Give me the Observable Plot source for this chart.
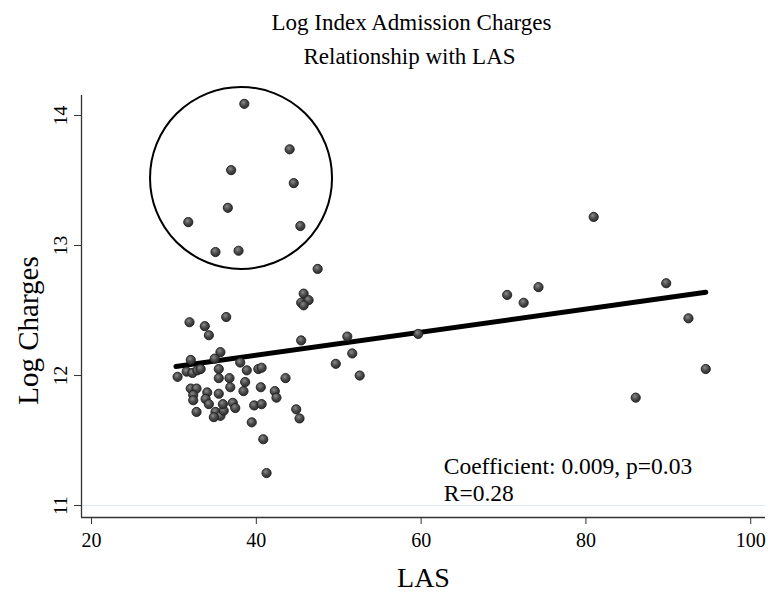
<!DOCTYPE html>
<html>
<head>
<meta charset="utf-8">
<script src="https://cdn.jsdelivr.net/npm/d3@7"></script>
<script src="https://cdn.jsdelivr.net/npm/@observablehq/plot@0.6"></script>
<style>
  html, body { margin: 0; padding: 0; background: #fff; }
  #chart { width: 768px; height: 595px; }
</style>
</head>
<body>
<div id="chart"></div>
<script>
// LAS values (x) and Log Charges values (y)
const las = [
  38.3, 43.8, 36.7, 44.3, 36.3, 31.5, 45.1, 34.8, 37.6,
  47.2, 45.5, 45.2, 46.1, 45.5, 45.2, 50.8, 59.4, 51.4, 49.4, 52.3, 43.3,
  80.7, 70.2, 72.2, 74.0, 89.5, 92.2, 94.3, 85.8,
  31.65, 33.5, 34.0, 36.1, 31.8, 35.4, 34.7, 30.2, 31.3, 32.0, 32.6, 33.0,
  35.2, 35.2, 36.5, 36.6, 31.8, 32.5, 32.1, 32.1, 33.8, 33.6, 35.2, 34.0,
  34.8, 35.4, 35.8, 35.7, 32.5, 34.6, 37.8, 38.6, 40.0, 40.4, 38.4, 38.2,
  40.3, 42.0, 42.2, 36.9, 37.2, 39.5, 40.4, 44.6, 45.0, 39.2, 40.6, 41.0
];
const logCharges = [
  14.09, 13.74, 13.58, 13.48, 13.29, 13.18, 13.15, 12.95, 12.96,
  12.82, 12.63, 12.56, 12.58, 12.54, 12.27, 12.30, 12.32, 12.17, 12.09, 12.00, 11.98,
  13.22, 12.62, 12.56, 12.68, 12.71, 12.44, 12.05, 11.83,
  12.41, 12.38, 12.31, 12.45, 12.12, 12.18, 12.13, 11.99, 12.03, 12.02, 12.04, 12.05,
  12.05, 11.98, 11.98, 11.91, 11.90, 11.90, 11.85, 11.81, 11.87, 11.82, 11.86, 11.78,
  11.72, 11.69, 11.73, 11.78, 11.72, 11.68, 12.10, 12.04, 12.05, 12.06, 11.95, 11.88,
  11.91, 11.88, 11.83, 11.79, 11.75, 11.77, 11.78, 11.74, 11.67, 11.64, 11.51, 11.25
];
// Fitted line end points
const fitX = [30.0, 94.3];
const fitY = [12.07, 12.64];
// Highlight circle centre
const circleX = [37.9];
const circleY = [13.52];
// Ticks
const xTicks = [20, 40, 60, 80, 100];
const yTicks = [11, 12, 13, 14];
const xDomain = [18.54, 101.55];
const yDomain = [10.908, 14.154];

const points = las.map((x, i) => ({x, y: logCharges[i]}));
const fit = fitX.map((x, i) => ({x, y: fitY[i]}));
const circ = circleX.map((x, i) => ({x, y: circleY[i]}));

const serif = "'Liberation Serif', 'Times New Roman', serif";

const plot = Plot.plot({
  width: 768,
  height: 595,
  marginLeft: 81,
  marginRight: 3,
  marginTop: 95,
  marginBottom: 78,
  style: {fontFamily: serif, background: "#fff", color: "#000"},
  x: {domain: xDomain, ticks: xTicks},
  y: {domain: yDomain, ticks: yTicks},
  marks: [
    Plot.ruleY([11], {stroke: "#dfe7ef", strokeWidth: 1}),
    Plot.axisX({ticks: xTicks, tickSize: 7, tickPadding: 8, fontSize: 20, dx: -2, label: null, stroke: "#333"}),
    Plot.axisY({ticks: yTicks, tickSize: 7, tickFormat: () => "", label: null, stroke: "#333"}),
    Plot.text(yTicks, {y: d => d, frameAnchor: "left", dx: -21, rotate: -90, textAnchor: "middle", lineAnchor: "middle", text: d => String(d), fontSize: 19.5, fill: "#000"}),
    Plot.ruleX([xDomain[0]], {stroke: "#333", strokeWidth: 1.3}),
    Plot.ruleY([yDomain[0]], {stroke: "#333", strokeWidth: 1.3}),
    Plot.dot(circ, {x: "x", y: "y", r: 91, stroke: "#000", strokeWidth: 2, fill: "none"}),
    Plot.line(fit, {x: "x", y: "y", stroke: "#000", strokeWidth: 5}),
    Plot.dot(points, {x: "x", y: "y", r: 4.6, fill: "url(#ballGrad)", stroke: "#1e1e1e", strokeWidth: 0.9}),
    Plot.text(["Coefficient: 0.009, p=0.03"], {x: 62.5, y: 11.304, text: d => d, textAnchor: "start", lineAnchor: "middle", fontSize: 23.5, fill: "#000"}),
    Plot.text(["R=0.28"], {x: 62.5, y: 11.096, text: d => d, textAnchor: "start", lineAnchor: "middle", fontSize: 23.5, fill: "#000"}),
    Plot.text(["Log Index Admission Charges"], {frameAnchor: "top", dx: -12, dy: -73, lineAnchor: "middle", text: d => d, fontSize: 23, fill: "#000"}),
    Plot.text(["Relationship with LAS"], {frameAnchor: "top", dx: -14, dy: -39, lineAnchor: "middle", text: d => d, fontSize: 23, fill: "#000"}),
    Plot.text(["LAS"], {frameAnchor: "bottom", dy: 61, lineAnchor: "middle", text: d => d, fontSize: 28, fill: "#000"}),
    Plot.text(["Log Charges"], {frameAnchor: "left", dx: -53, dy: 24, rotate: -90, textAnchor: "middle", lineAnchor: "middle", text: d => d, fontSize: 29, fill: "#000"})
  ]
});

// radial gradient for shaded markers
const svgNS = "http://www.w3.org/2000/svg";
const defs = document.createElementNS(svgNS, "defs");
defs.innerHTML = `<radialGradient id="ballGrad" cx="40%" cy="35%" r="65%">
  <stop offset="0%" stop-color="#8a8a8a"/>
  <stop offset="55%" stop-color="#4a4a4a"/>
  <stop offset="100%" stop-color="#2e2e2e"/>
</radialGradient>`;
plot.insertBefore(defs, plot.firstChild);

document.getElementById("chart").appendChild(plot);
</script>
</body>
</html>
